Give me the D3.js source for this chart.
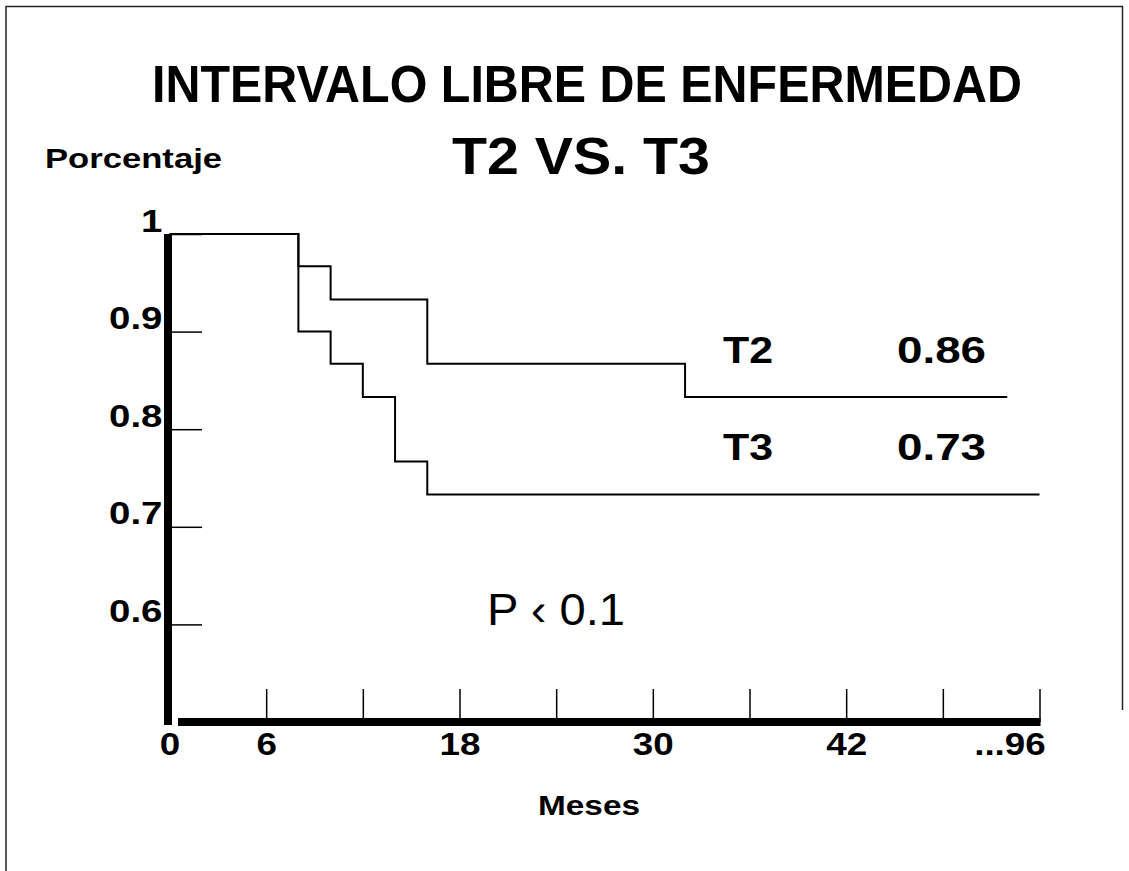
<!DOCTYPE html>
<html>
<head>
<meta charset="utf-8">
<script src="https://cdn.jsdelivr.net/npm/d3@7"></script>
<style>
  html, body { margin: 0; padding: 0; background: #fff; }
  svg { display: block; }
  text { font-family: "Liberation Sans", Arial, Helvetica, sans-serif; fill: #000; }
</style>
</head>
<body>
<svg id="chart" width="1129" height="871"></svg>
<script>
// Kaplan-Meier disease-free interval, stage T2 vs T3 (months, survival proportion)
const t2Months   = [0, 8, 10, 16, 32, 52];
const t2Survival = [1, 0.967, 0.933, 0.867, 0.833, 0.833];
const t3Months   = [0, 8, 10, 12, 14, 16, 54];
const t3Survival = [1, 0.9, 0.867, 0.833, 0.767, 0.733, 0.733];

const yTicks = [0.6, 0.7, 0.8, 0.9, 1];
const yTickLabels = ["0.6", "0.7", "0.8", "0.9", "1"];
const xTicks = [0, 6, 12, 18, 24, 30, 36, 42, 48, 54];
const xTickLabels = ["0", "6", "", "18", "", "30", "", "42", "", "...96"];

const seriesNames = ["T2", "T3"];
const seriesRates = ["0.86", "0.73"];

const svg = d3.select("#chart");

const x = d3.scaleLinear().domain([0, 54]).range([169.5, 1039.5]);
const y = d3.scaleLinear().domain([0.5, 1]).range([722, 234]);

// free-standing text fitted to a given width
function fitText(str, x0, width, baseline, size, weight) {
  svg.append("text")
    .attr("x", x0).attr("y", baseline)
    .attr("font-size", size)
    .attr("font-weight", weight)
    .attr("textLength", width)
    .attr("lengthAdjust", "spacingAndGlyphs")
    .text(str);
}

// page frame (open at the bottom)
svg.append("path")
  .attr("d", "M6,871V6.5H1122.5V710")
  .attr("fill", "none").attr("stroke", "#222").attr("stroke-width", 1.5);

// titles
fitText("INTERVALO LIBRE DE ENFERMEDAD", 152, 870, 102, 51, 700);
fitText("T2 VS. T3", 452, 258, 174, 51, 700);
fitText("Porcentaje", 45, 177, 168, 28, 700);

// y axis: thick spine, thin ticks pointing inward
svg.append("line")
  .attr("x1", 168).attr("x2", 168)
  .attr("y1", y(1)).attr("y2", y(0.5) + 3)
  .attr("stroke", "#000").attr("stroke-width", 8);

const yAxis = d3.axisLeft(y)
  .tickValues(yTicks)
  .tickSizeInner(-30).tickSizeOuter(0).tickPadding(8)
  .tickFormat((d, i) => yTickLabels[i]);

const gy = svg.append("g").attr("transform", "translate(172,0)").call(yAxis);
gy.select(".domain").remove();
gy.selectAll(".tick line").attr("stroke", "#000").attr("stroke-width", 1.5);
gy.selectAll(".tick text")
  .attr("font-size", 32).attr("font-weight", 700)
  .attr("font-family", "Liberation Sans, Arial, sans-serif")
  .attr("dy", "-3px")
  .attr("transform", "scale(1.2,1)");

// x axis: thick baseline, ticks pointing up
svg.append("line")
  .attr("x1", 178).attr("x2", x(54) + 1)
  .attr("y1", y(0.5)).attr("y2", y(0.5))
  .attr("stroke", "#000").attr("stroke-width", 8);

const xAxis = d3.axisBottom(x)
  .tickValues(xTicks)
  .tickSizeInner(-33).tickSizeOuter(0).tickPadding(0)
  .tickFormat((d, i) => xTickLabels[i]);

const gx = svg.append("g").attr("transform", `translate(0,${y(0.5)})`).call(xAxis);
gx.select(".domain").remove();
gx.selectAll(".tick line").attr("stroke", "#000").attr("stroke-width", 1.5)
  .filter(d => d === 0).remove();
gx.selectAll(".tick text")
  .attr("font-size", 32).attr("font-weight", 700)
  .attr("font-family", "Liberation Sans, Arial, sans-serif")
  .attr("y", 33).attr("dy", 0)
  .attr("transform", "scale(1.15,1)");
gx.selectAll(".tick text").filter(d => d === 54)
  .attr("text-anchor", "end").attr("x", 5);

fitText("Meses", 538, 102, 815, 28, 700);

// survival step curves
const step = d3.line()
  .x(d => x(d[0]))
  .y(d => y(d[1]))
  .curve(d3.curveStepAfter);

const curves = [
  d3.zip(t2Months, t2Survival),
  d3.zip(t3Months, t3Survival)
];

svg.append("g").selectAll("path")
  .data(curves)
  .join("path")
  .attr("d", step)
  .attr("fill", "none")
  .attr("stroke", "#000")
  .attr("stroke-width", 2);

// series labels with their rates
const labelBase = [363, 460];
seriesNames.forEach((name, i) => {
  fitText(name, 723, 50, labelBase[i], 37, 700);
  fitText(seriesRates[i], 897, 89, labelBase[i], 37, 700);
});

fitText("P \u2039 0.1", 487, 138, 625, 44, 400);
</script>
</body>
</html>
